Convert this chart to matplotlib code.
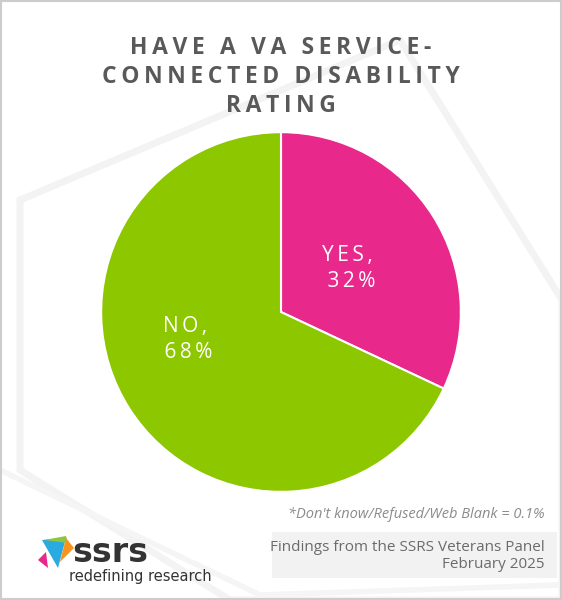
import numpy as np
import matplotlib.pyplot as plt
from matplotlib.patches import Rectangle, Polygon

labels = ["YES,\n32%", "NO,\n68%"]
values = [32, 68]
colors = ["#E8288A", "#8CC700"]
title_lines = ["HAVE A VA SERVICE-", "CONNECTED DISABILITY", "RATING"]
FAM = ["Open Sans", "DejaVu Sans"]


def spaced(s, gap="\u2009"):
    return gap.join(s)


fig = plt.figure(figsize=(5.62, 6.0), dpi=100)
fig.patch.set_facecolor("white")

# faint background shapes
bg = fig.add_axes([0, 0, 1, 1])
bg.set_xlim(0, 562)
bg.set_ylim(600, 0)
bg.axis("off")
bg.add_patch(Polygon([[20, 200], [400, 40], [562, 300], [562, 600], [230, 600], [20, 470]],
                     closed=True, fill=False, ec="#f3f3f3", lw=5))
bg.add_patch(Polygon([[0, 470], [260, 595], [560, 585]], closed=False, fill=False,
                     ec="#f5f5f5", lw=4))
bg.add_patch(Rectangle((1, 1), 560, 598, fill=False, ec="#cccccc", lw=1.5))
bg.add_patch(Rectangle((272, 532), 285, 46, fc="#f2f2f2", ec="none"))

for i, line in enumerate(title_lines):
    bg.text(281, 48 + i * 29, spaced(line), ha="center", va="center",
            fontsize=16.5, fontweight="bold", color="#595959", family=FAM)
bg.text(545, 514, "*Don't know/Refused/Web Blank = 0.1%", ha="right", va="center",
        fontsize=10.5, style="italic", color="#8c8c8c", family=FAM)
bg.text(545, 556, "Findings from the SSRS Veterans Panel\nFebruary 2025", ha="right",
        va="center", fontsize=11, color="#6b6b6b", family=FAM, linespacing=1.15)

# logo
bg.add_patch(Polygon([[42, 540], [66, 538], [58, 568]], fc="#29ABE2", ec="none"))
bg.add_patch(Polygon([[44, 540], [66, 536], [68, 543]], fc="#8CC63F", ec="none"))
bg.add_patch(Polygon([[66, 538], [74, 548], [60, 562]], fc="#F7941D", ec="none"))
bg.add_patch(Polygon([[38, 560], [46, 552], [48, 568]], fc="#E8288A", ec="none"))
bg.text(72, 553, "ssrs", ha="left", va="center", fontsize=24, fontweight="bold",
        color="#333333", family="DejaVu Sans")
bg.text(69, 577, "redefining research", ha="left", va="center", fontsize=10.5,
        color="#333333", family="Liberation Sans Narrow")

ax = fig.add_axes([0.18, 0.18, 0.64, 0.6])
wedges, texts = ax.pie(values, colors=colors, startangle=90, counterclock=False,
                       radius=1.0, wedgeprops=dict(ec="white", lw=1.5))
for w, lab, r, dy in zip(wedges, labels, [0.45, 0.62], [0.0, 0.18]):
    ang = np.deg2rad((w.theta1 + w.theta2) / 2)
    ax.text(r * np.cos(ang), r * np.sin(ang) + dy, spaced(lab), ha="center", va="center",
            fontsize=15, color="white", family=FAM, fontweight="medium", linespacing=1.3)
ax.set_xlim(-1, 1)
ax.set_ylim(-1, 1)
ax.set_aspect("equal")

fig.savefig("out.png", dpi=100)
